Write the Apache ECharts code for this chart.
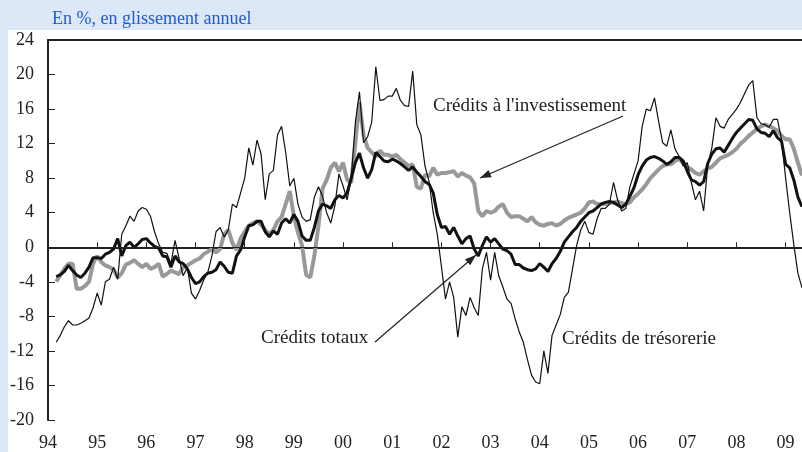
<!DOCTYPE html>
<html>
<head>
<meta charset="utf-8">
<script src="https://cdn.jsdelivr.net/npm/echarts@6/dist/echarts.min.js"></script>
<style>
  body { margin: 0; background: #dce8f7; }
  #wrap { position: relative; width: 802px; height: 452px; overflow: hidden; }
  #paper { position: absolute; left: 8px; top: 30px; right: 0; bottom: 0; background: #fff; }
  #chart { position: absolute; left: 0; top: 0; width: 802px; height: 452px; }
</style>
</head>
<body>
<div id="wrap">
  <div id="paper"></div>
  <div id="chart"></div>
</div>
<script>
// months from 1994-01 to 2009-05
const months = [];
for (let y = 1994; y <= 2009; y++) {
  for (let m = 1; m <= 12; m++) {
    if (y === 2009 && m > 5) break;
    months.push(y + "-" + String(m).padStart(2, "0"));
  }
}

const yTicks = [-20, -16, -12, -8, -4, 0, 4, 8, 12, 16, 20, 24];

// Crédits de trésorerie (thin black)
const tresorerie = [
  "-", "-", -11.0, -10.2, -9.2, -8.5, -9.0, -9.0, -8.8, -8.5, -8.2, -7.0,
  -5.3, -6.7, -4.0, -3.7, -2.3, -3.7, 1.5, 2.5, 3.6, 3.0, 4.2, 4.6,
  4.4, 3.6, 1.8, 0.4, -0.6, -0.7, -1.9, 0.8, -1.3, -3.3, -2.3, -5.3,
  -6.0, -5.0, -3.8, -2.9, -1.0, 1.8, 2.3, 1.2, 2.0, 5.0, 4.6, 6.3,
  8.0, 11.5, 9.5, 12.4, 10.8, 5.5, 8.5, 8.9, 13.0, 14.0, 11.0, 7.1,
  8.0, 5.0, 3.5, 3.0, 3.2, 5.8, 7.0, 5.9, 4.0, 2.8, 4.8, 8.5,
  7.1, 5.5, 8.0, 14.4, 18.0, 12.1, 12.8, 14.5, 20.9, 17.0, 17.1, 17.5,
  17.5, 18.4, 17.0, 16.4, 16.3, 20.4, 14.2, 13.0, 9.4, 7.6, 4.0, 1.5,
  -2.2, -6.0, -4.0, -5.8, -10.4, -6.9, -7.9, -5.8, -7.0, -7.9, -2.5, -0.6,
  -3.8, -0.6, -3.3, -4.6, -6.0, -6.5, -8.3, -9.8, -11.0, -13.0, -14.8, -15.6,
  -15.8, -12.0, -14.6, -10.2, -9.0, -7.8, -5.8, -5.2, -2.5, 0.2, 2.0, 3.0,
  1.7, 1.5, 3.3, 4.5, 4.5, 5.0, 7.5, 5.5, 4.2, 4.5, 7.0, 8.5,
  10.0, 14.0, 16.0, 15.8, 17.3, 14.6, 12.1, 11.7, 13.6, 11.4, 10.5, 9.4,
  9.8, 7.5, 5.5, 6.5, 4.2, 9.5, 11.5, 15.0, 14.0, 13.8, 14.8, 15.4,
  16.0, 16.8, 17.8, 18.8, 19.3, 15.0, 14.3, 14.2, 13.9, 14.8, 14.8, 12.5,
  8.0, 4.0, 0.3, -3.0, -4.7
];

// Crédits totaux (thick black)
const totaux = [
  "-", "-", -3.4, -3.2, -2.8, -2.1, -2.7, -3.2, -3.5, -3.0, -2.3, -1.2,
  -1.2, -1.3, -0.8, -0.6, -0.2, 1.0, -1.0, 0.2, 0.6, 0.0, 0.4, 0.9,
  1.0, 0.5, 0.1, -0.1, -1.0, -1.1, -2.3, -1.0, -1.7, -1.9, -2.5, -3.5,
  -4.2, -4.0, -3.4, -3.0, -2.9, -2.6, -1.7, -2.2, -2.9, -3.0, -1.0, -0.3,
  1.2, 2.5, 2.6, 3.0, 3.0, 1.8, 1.2, 1.9, 1.5, 2.8, 3.3, 2.8,
  3.8, 3.0, 1.3, 0.8, 0.8, 2.3, 4.2, 5.0, 4.8, 4.5, 5.5, 6.0,
  5.7, 6.3, 8.0, 9.8, 10.9, 9.2, 8.0, 9.0, 11.0, 10.5, 10.0, 9.9,
  10.2, 10.0, 9.7, 9.3, 8.9, 9.3, 8.7, 8.2, 7.6, 7.3, 6.3, 3.8,
  2.3, 2.4, 1.5, 2.3, 1.3, 0.4, 1.0, 1.3, -0.2, -1.0, 0.2, 1.2,
  0.6, 1.0, 0.4, -0.2, -0.4, -0.8, -2.0, -2.0, -2.4, -2.6, -2.7, -2.5,
  -1.9, -2.3, -2.8, -1.9, -1.3, -0.5, 0.6, 1.2, 1.8, 2.3, 3.0, 3.5,
  4.0, 4.2, 4.6, 5.0, 5.2, 5.3, 5.2, 4.9, 4.6, 5.0, 5.9, 6.9,
  8.4, 9.4, 10.1, 10.4, 10.5, 10.3, 10.0, 9.6, 9.9, 10.4, 10.4, 10.0,
  8.8, 7.8, 7.6, 7.2, 7.6, 9.7, 10.8, 11.4, 11.5, 11.0, 11.8, 12.6,
  13.3, 13.8, 14.3, 14.8, 14.7, 13.7, 13.3, 13.2, 12.8, 13.5, 12.7, 12.3,
  9.6, 9.2, 7.8, 5.8, 4.7
];

// Crédits à l'investissement (thick grey)
const investissement = [
  "-", "-", -4.0, -3.2, -2.5, -1.9, -1.9, -4.8, -4.8, -4.5, -4.0, -1.9,
  -1.0, -1.7, -2.1, -2.3, -2.6, -3.5, -3.0, -2.0, -1.8, -1.5, -1.9, -2.3,
  -1.9, -2.5, -2.3, -1.9, -3.4, -3.1, -2.7, -2.9, -3.1, -2.3, -2.1, -1.8,
  -1.5, -1.3, -0.8, -0.5, -0.2, -0.6, -0.2, 1.5, 2.0, 0.5, -0.3, 1.0,
  1.8, 2.5, 2.8, 3.0, 2.6, 2.0, 1.5, 2.0, 3.0, 3.5, 5.0, 6.5,
  3.6, 1.7, 0.2, -3.2, -3.5, -1.0, 2.5, 6.8, 7.8, 9.2, 9.8, 8.8,
  9.8, 7.8, 7.5, 12.1, 16.8, 13.0, 11.5, 11.0, 10.5, 11.2, 10.7, 10.7,
  10.5, 10.7, 10.2, 9.8, 9.4, 9.6, 7.0, 6.8, 8.4, 8.2, 9.2, 8.4,
  8.6, 8.6, 8.7, 8.8, 8.2, 8.6, 8.3, 8.1, 7.4, 4.2, 3.6, 4.2,
  4.0, 4.2, 4.7, 5.0, 4.0, 3.5, 3.6, 3.6, 3.3, 3.0, 3.5, 2.9,
  2.6, 2.5, 2.7, 2.8, 2.5, 2.7, 3.1, 3.4, 3.6, 3.8, 4.0, 4.5,
  5.2, 5.3, 5.0, 5.0, 5.0, 5.1, 5.2, 5.3, 5.1, 5.0, 5.2, 5.8,
  6.2, 6.7, 7.3, 8.0, 8.5, 9.0, 9.4, 9.6, 9.6, 10.0, 10.2, 9.8,
  9.3, 9.0, 8.6, 8.4, 8.8, 9.1, 9.3, 9.8, 10.3, 10.5, 10.7, 11.0,
  11.4, 12.0, 12.4, 12.9, 13.3, 13.7, 14.0, 14.2, 14.0, 13.8, 13.5, 12.9,
  12.5, 12.5, 11.4, 9.8, 8.3
];

const serif = "'Liberation Serif', 'DejaVu Serif', serif";
const ink = "#222";

const everyYear = (i) => i % 12 === 0;

function arrowHead(x1, y1, x2, y2) {
  const a = Math.atan2(y2 - y1, x2 - x1);
  const L = 11, W = 4;
  return [
    [x2, y2],
    [x2 - L * Math.cos(a) + W * Math.sin(a), y2 - L * Math.sin(a) - W * Math.cos(a)],
    [x2 - L * Math.cos(a) - W * Math.sin(a), y2 - L * Math.sin(a) + W * Math.cos(a)],
  ];
}

const arrows = [
  [623, 116, 480, 178],
  [375, 342, 476, 255],
];

const graphics = [
  {
    type: "text", left: 52, top: 10,
    style: { text: "En %, en glissement annuel", fill: "#1f5bd0", font: "18px " + serif },
  },
  {
    type: "text", x: 433, y: 106,
    style: { text: "Crédits à l'investissement", fill: ink, font: "19px " + serif, verticalAlign: "middle" },
  },
  {
    type: "text", x: 261, y: 338,
    style: { text: "Crédits totaux", fill: ink, font: "19px " + serif, verticalAlign: "middle" },
  },
  {
    type: "text", x: 562, y: 339,
    style: { text: "Crédits de trésorerie", fill: ink, font: "19px " + serif, verticalAlign: "middle" },
  },
];
arrows.forEach((a) => {
  graphics.push({
    type: "line",
    shape: { x1: a[0], y1: a[1], x2: a[2], y2: a[3] },
    style: { stroke: ink, lineWidth: 1.2 },
  });
  graphics.push({
    type: "polygon",
    shape: { points: arrowHead(a[0], a[1], a[2], a[3]) },
    style: { fill: ink },
  });
});

const chart = echarts.init(document.getElementById("chart"));
chart.setOption({
  animation: false,
  backgroundColor: "transparent",
  grid: { left: 48, right: 0, top: 40, bottom: 31 },
  xAxis: [
    {
      type: "category",
      data: months,
      boundaryGap: false,
      axisLine: { lineStyle: { color: ink, width: 2 } },
      axisTick: { inside: true, length: 5, interval: everyYear, lineStyle: { color: ink, width: 1 } },
      axisLabel: {
        interval: everyYear,
        formatter: (v) => v.slice(2, 4),
        color: ink,
        fontFamily: serif,
        fontSize: 18,
        margin: 14,
      },
      splitLine: { show: false },
    },
    {
      type: "category",
      data: months,
      position: "top",
      boundaryGap: false,
      axisLine: { lineStyle: { color: ink, width: 2 } },
      axisTick: { show: false },
      axisLabel: { show: false },
    },
  ],
  yAxis: {
    type: "value",
    min: yTicks[0],
    max: yTicks[yTicks.length - 1],
    interval: 4,
    axisLine: { show: true, lineStyle: { color: ink, width: 2 } },
    axisTick: { show: true, inside: true, length: 7, lineStyle: { color: ink, width: 1 } },
    axisLabel: { color: ink, fontFamily: serif, fontSize: 18, margin: 14 },
    splitLine: { show: false },
  },
  series: [
    {
      name: "Crédits à l'investissement",
      type: "line",
      data: investissement,
      showSymbol: false,
      lineStyle: { color: "#999", width: 4 },
      z: 2,
    },
    {
      name: "Crédits de trésorerie",
      type: "line",
      data: tresorerie,
      showSymbol: false,
      lineStyle: { color: "#111", width: 1.2 },
      z: 3,
      markLine: {
        silent: true,
        symbol: "none",
        label: { show: false },
        lineStyle: { color: ink, width: 1, type: "solid" },
        data: [{ yAxis: 0 }],
      },
    },
    {
      name: "Crédits totaux",
      type: "line",
      data: totaux,
      showSymbol: false,
      lineStyle: { color: "#111", width: 3 },
      z: 4,
    },
  ],
  graphic: graphics,
});
</script>
</body>
</html>
